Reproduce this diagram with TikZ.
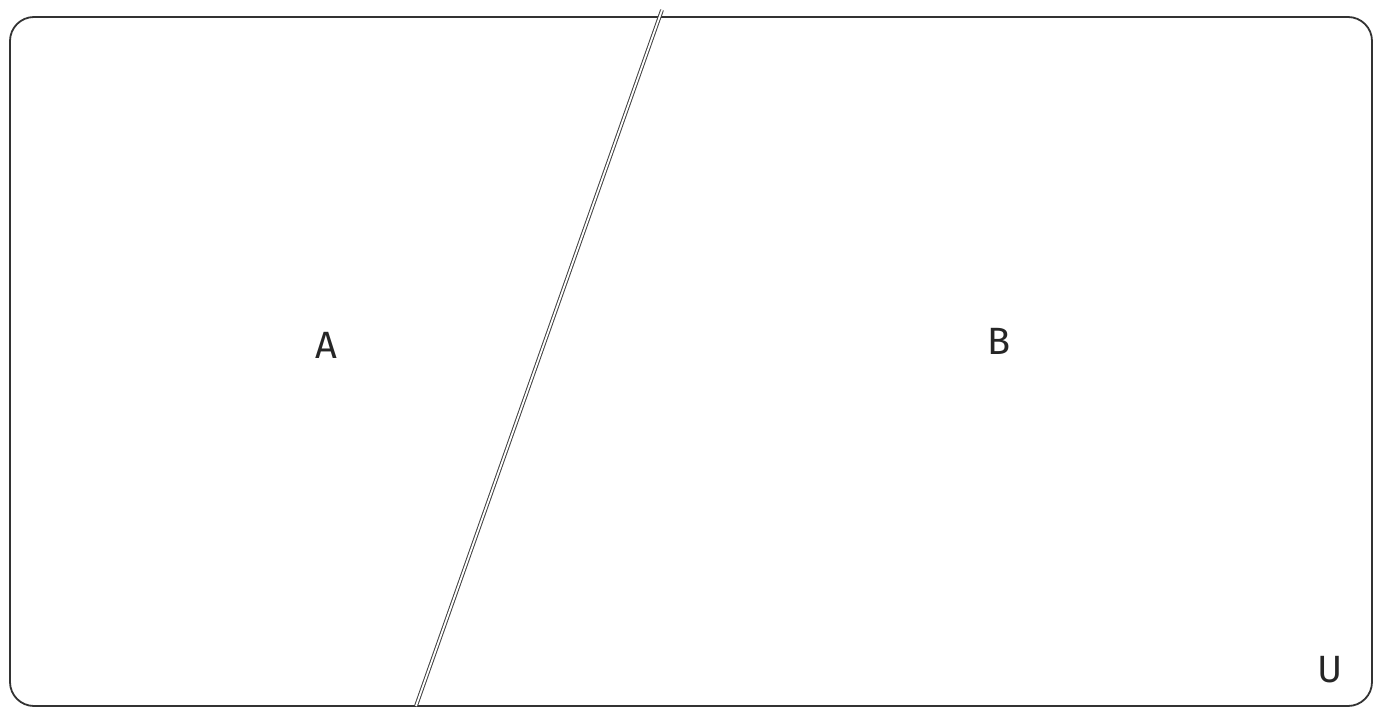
\documentclass[tikz,border=0pt]{standalone}
\usepackage{fontspec}
\setmainfont{Fira Sans}
\tikzset{
  setlabel/.style={font=\fontsize{19}{22}\selectfont, text=black!85},
  frameline/.style={draw=black!80, line width=0.9pt, rounded corners=12pt},
  cutline/.style={draw=black!75, double=white, double distance=0.9pt, line width=0.5pt}
}
\begin{document}
\begin{tikzpicture}[x=0.5pt,y=-0.5pt]
        \useasboundingbox (0,0) rectangle (1382,717);
        % universe frame
        \draw[frameline] (10,17) rectangle (1372,706);
        % dividing line
        \coordinate (cuttop) at (662,10);
        \coordinate (cutbot) at (416,706);
        \draw[cutline] (cuttop) -- (cutbot);
        % labels
        \node[setlabel] (seta) at (326,345) {A};
        \node[setlabel] (setb) at (999,341) {B};
        \node[setlabel] (setu) at (1330,670) {U};
    \end{tikzpicture}
\end{document}
